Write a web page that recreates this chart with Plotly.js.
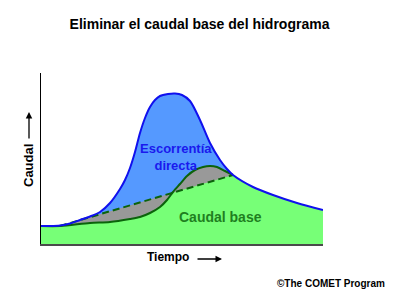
<!DOCTYPE html>
<html>
<head>
<meta charset="utf-8">
<script src="https://cdn.plot.ly/plotly-3.0.1.min.js"></script>
<style>html,body{margin:0;padding:0;background:#fff;}</style>
</head>
<body>
<div id="chart" style="width:399px;height:296px;"></div>
<script>
// Total hydrograph (streamflow) over time
const time      = [0, 0.9, 1.9, 2.9, 3.9, 4.9, 5.9, 6.9, 7.9, 8.4, 8.9, 9.4, 9.9, 10.4, 10.9, 11.4, 11.9, 12.7, 13.4, 14.1, 14.9, 15.9, 16.9, 17.9, 18.6, 19.2, 21.2, 23.2, 25.6, 28.2];
const totalFlow = [1.8, 1.8, 1.85, 2.05, 2.4, 2.75, 3.2, 4.1, 5.5, 6.4, 7.6, 9.2, 11.1, 12.6, 13.7, 14.4, 14.8, 15.0, 15.05, 14.9, 14.3, 12.4, 10.1, 8.4, 7.5, 6.9, 5.7, 4.9, 4.1, 3.4];
// Solid separation curve
const sepTime = [0, 1.9, 4.9, 6.9, 8.9, 9.9, 10.9, 11.9, 12.6, 13.2, 13.9, 14.6, 15.4, 16.2, 16.9, 17.6, 18.4, 19.2];
const sepFlow = [1.8, 1.8, 2.1, 2.2, 2.5, 2.7, 3.1, 3.7, 4.4, 5.2, 6.0, 6.8, 7.4, 7.7, 7.8, 7.7, 7.3, 6.9];
// Dashed straight-line separation
const dashTime = [1.9, 19.2];
const dashFlow = [1.8, 6.9];
// Upper edge of the base-flow area before the curves cross
const baseRiseTime = [0, 1.9, 4.9, 6.9, 8.9, 9.9, 10.9, 11.9, 12.6, 13.1];
const baseRiseFlow = [1.8, 1.8, 2.1, 2.2, 2.5, 2.7, 3.1, 3.7, 4.4, 5.1];

// Base-flow area: rise, dashed line to its end, then follows the recession
const baseTime = baseRiseTime.concat([dashTime[1]]);
const baseFlow = baseRiseFlow.concat([dashFlow[1]]);
time.forEach((t, i) => { if (t > dashTime[1]) { baseTime.push(t); baseFlow.push(totalFlow[i]); } });

const BLUE_FILL = '#5599ff', GRAY = '#999999', GREEN_FILL = '#77ff77';
const BLUE_LINE = '#1010ee', DARK_GREEN = '#0b630b';

const traces = [
  {x: time, y: totalFlow, mode: 'lines', fill: 'tozeroy', fillcolor: BLUE_FILL, line: {width: 0, shape: 'spline', smoothing: 0.8}},
  {x: sepTime, y: sepFlow, mode: 'lines', fill: 'tozeroy', fillcolor: GRAY, line: {width: 0, shape: 'spline', smoothing: 0.8}},
  {x: dashTime, y: dashFlow, mode: 'lines', fill: 'tozeroy', fillcolor: GRAY, line: {width: 0}},
  {x: baseTime, y: baseFlow, mode: 'lines', fill: 'tozeroy', fillcolor: GREEN_FILL, line: {width: 0}},
  {x: dashTime, y: dashFlow, mode: 'lines', line: {color: DARK_GREEN, width: 2, dash: '7px,4px'}},
  {x: sepTime, y: sepFlow, mode: 'lines', line: {color: DARK_GREEN, width: 2, shape: 'spline', smoothing: 0.8}},
  {x: time, y: totalFlow, mode: 'lines', line: {color: BLUE_LINE, width: 2, shape: 'spline', smoothing: 0.8}}
].map(t => Object.assign({showlegend: false, hoverinfo: 'skip'}, t));

const axisCommon = {showgrid: false, zeroline: false, showticklabels: false, ticks: '', fixedrange: true};
const FONT = 'Liberation Sans, Arial, sans-serif';

const px = v => (v - 41) / 282;
const py = v => (244 - v) / 171;

const layout = {
  width: 399, height: 296,
  margin: {l: 41, r: 76, t: 73, b: 52, pad: 0},
  paper_bgcolor: '#ffffff', plot_bgcolor: '#ffffff',
  font: {family: FONT, color: '#000'},
  title: {text: '<b>Eliminar el caudal base del hidrograma</b>', font: {family: FONT, size: 14, color: '#000'},
          xref: 'container', x: 0.5, xanchor: 'center', yref: 'container', y: 1 - 24/296, yanchor: 'middle'},
  xaxis: Object.assign({range: [0, 28.2], showline: true, linecolor: '#4a4a4a', linewidth: 1.5}, axisCommon),
  yaxis: Object.assign({range: [0, 17.1], showline: true, linecolor: '#000', linewidth: 1}, axisCommon),
  annotations: [
    {text: '<b>Escorrentía<br>directa</b>', x: 13.5, y: 8.7, xref: 'x', yref: 'y', showarrow: false,
     xanchor: 'center', yanchor: 'middle', font: {family: FONT, size: 13, color: '#1a1aee'}, align: 'center'},
    {text: '<b>Caudal base</b>', x: 17.9, y: 2.7, xref: 'x', yref: 'y', showarrow: false,
     xanchor: 'center', yanchor: 'middle', font: {family: FONT, size: 14, color: '#1f7f1f'}},
    {text: '<b>Caudal</b>', x: px(28), y: py(166), xref: 'paper', yref: 'paper', showarrow: false,
     xanchor: 'center', yanchor: 'middle', textangle: -90, font: {family: FONT, size: 13, color: '#000'}},
    {text: '', x: px(29), y: py(112), xref: 'paper', yref: 'paper', showarrow: true,
     ax: 0, ay: 28, arrowhead: 2, arrowsize: 1, arrowwidth: 1.3, arrowcolor: '#000'},
    {text: '<b>Tiempo</b>', x: px(168), y: py(257), xref: 'paper', yref: 'paper', showarrow: false,
     xanchor: 'center', yanchor: 'middle', font: {family: FONT, size: 12, color: '#000'}},
    {text: '', x: px(222), y: py(259), xref: 'paper', yref: 'paper', showarrow: true,
     ax: -26, ay: 0, arrowhead: 2, arrowsize: 1, arrowwidth: 1.3, arrowcolor: '#000'},
    {text: '<b>©The COMET Program</b>', x: px(331), y: py(283), xref: 'paper', yref: 'paper', showarrow: false,
     xanchor: 'center', yanchor: 'middle', font: {family: FONT, size: 10, color: '#000'}}
  ]
};

Plotly.newPlot('chart', traces, layout, {staticPlot: true, displayModeBar: false});
</script>
</body>
</html>
